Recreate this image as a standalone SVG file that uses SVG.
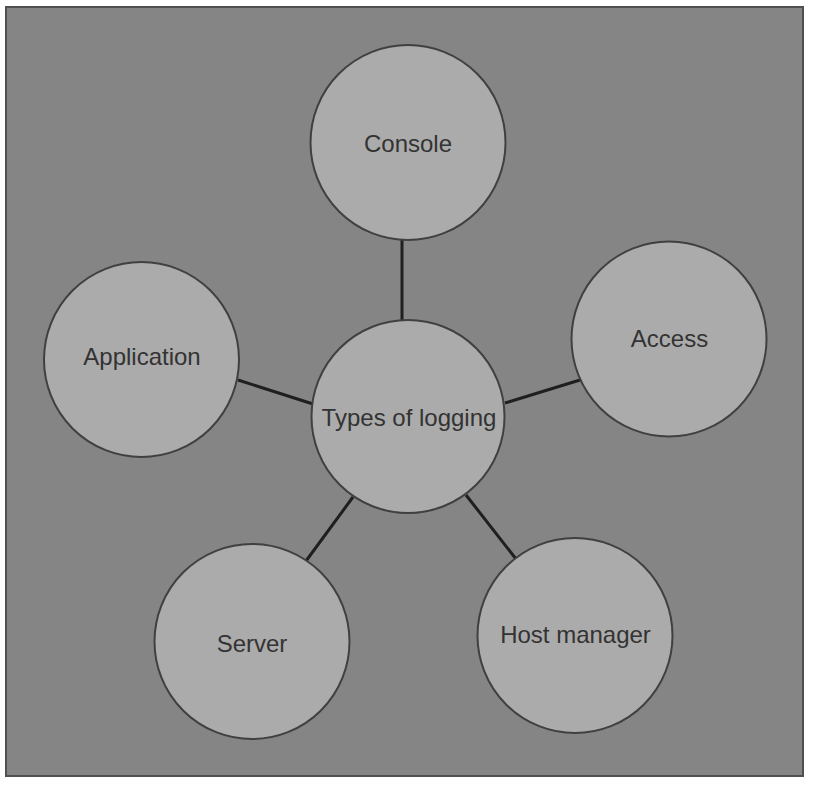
<svg xmlns="http://www.w3.org/2000/svg" width="814" height="805" viewBox="0 0 814 805">
  <style>
    .node circle { fill: #ababab; stroke: #404040; stroke-width: 2; }
    .node text { font-family: "Liberation Sans", Arial, sans-serif; font-size: 24px; fill: #333333; text-anchor: middle; }
    .edges line { stroke: #1f1f1f; stroke-width: 3; stroke-linecap: butt; }
  </style>
  <rect x="0" y="0" width="814" height="805" fill="#ffffff"/>
  <rect x="6" y="7" width="797" height="769" fill="#858585" stroke="#505050" stroke-width="2"/>
  <g id="connectors" class="edges">
    <line x1="402" y1="239" x2="402" y2="321"/>
    <line x1="238" y1="380" x2="313" y2="404"/>
    <line x1="580" y1="380" x2="505" y2="403"/>
    <line x1="306" y1="561" x2="353" y2="497"/>
    <line x1="516" y1="559" x2="466" y2="495"/>
  </g>
  <g id="node-console" class="node">
    <circle cx="408" cy="142.5" r="97.5"/>
    <text x="408" y="152">Console</text>
  </g>
  <g id="node-application" class="node">
    <circle cx="141.5" cy="359.5" r="97.5"/>
    <text x="142" y="365">Application</text>
  </g>
  <g id="node-access" class="node">
    <circle cx="669" cy="339" r="97.5"/>
    <text x="669.5" y="347">Access</text>
  </g>
  <g id="node-types" class="node">
    <circle cx="408" cy="416.5" r="96.5"/>
    <text x="409" y="426">Types of logging</text>
  </g>
  <g id="node-server" class="node">
    <circle cx="252" cy="641.5" r="97.5"/>
    <text x="252" y="652">Server</text>
  </g>
  <g id="node-host" class="node">
    <circle cx="575" cy="635.5" r="97.5"/>
    <text x="575.5" y="643">Host manager</text>
  </g>
</svg>
